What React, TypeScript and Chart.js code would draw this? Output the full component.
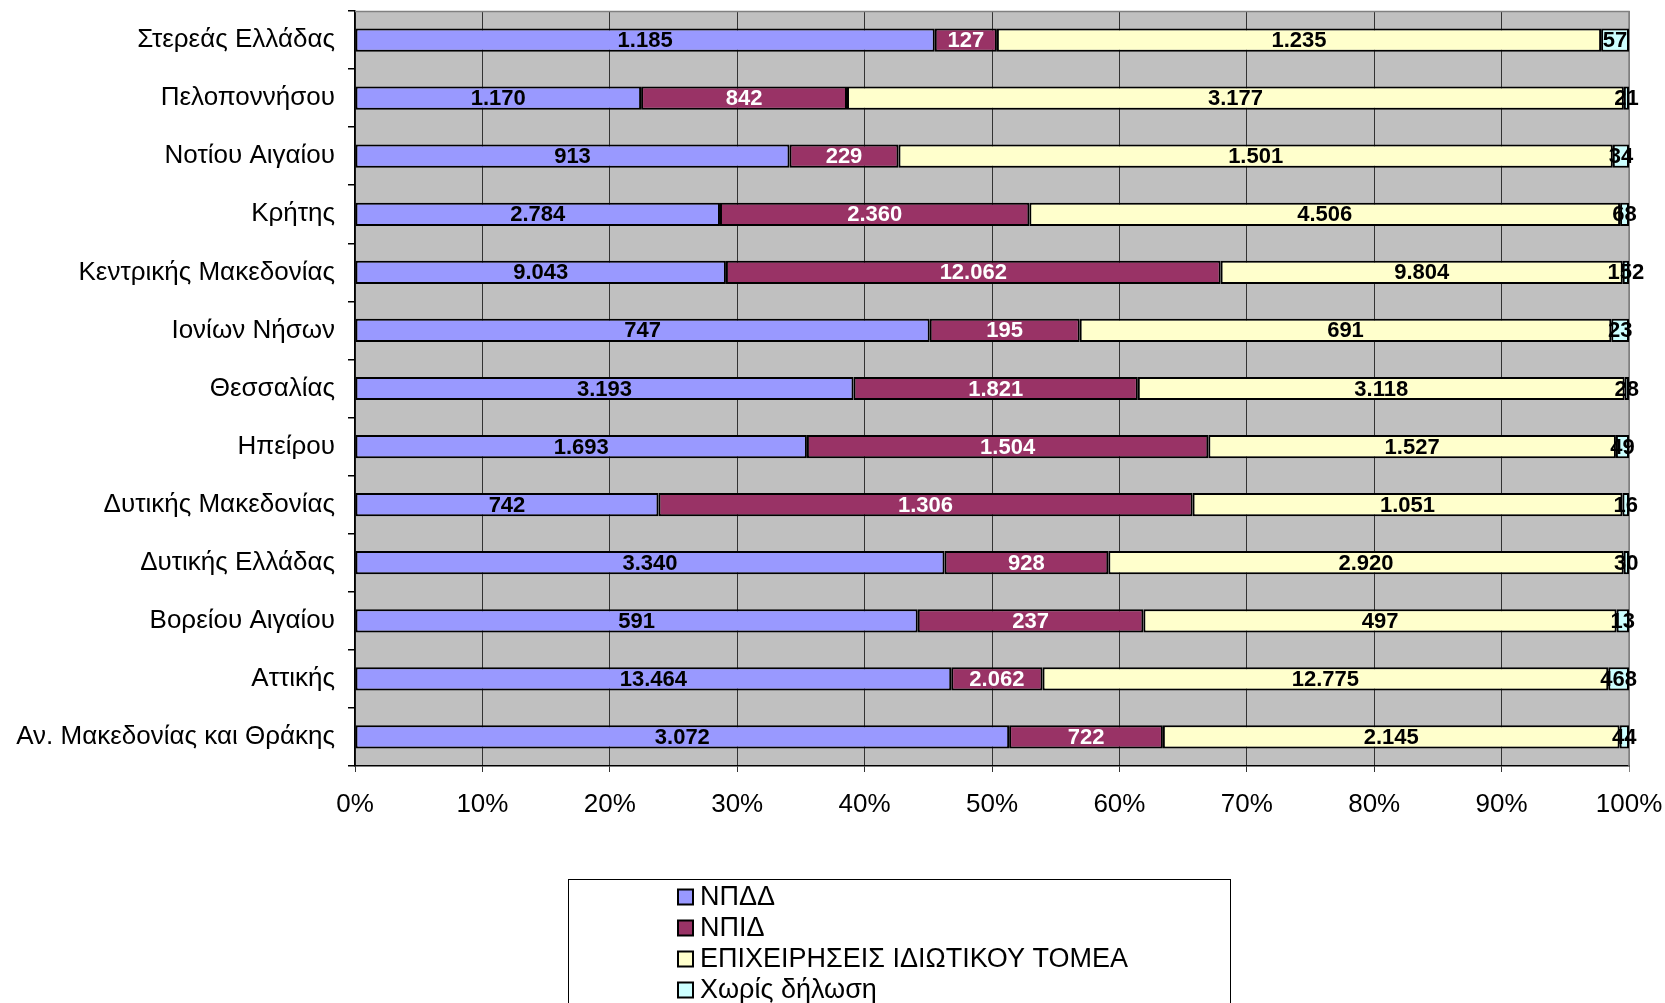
import React, { useEffect, useRef } from 'react';
import { Chart, registerables } from 'chart.js';

Chart.register(...registerables);

const categories = [
  'Στερεάς Ελλάδας',
  'Πελοποννήσου',
  'Νοτίου Αιγαίου',
  'Κρήτης',
  'Κεντρικής Μακεδονίας',
  'Ιονίων Νήσων',
  'Θεσσαλίας',
  'Ηπείρου',
  'Δυτικής Μακεδονίας',
  'Δυτικής Ελλάδας',
  'Βορείου Αιγαίου',
  'Αττικής',
  'Αν. Μακεδονίας και Θράκης',
];

const npdd = [1185, 1170, 913, 2784, 9043, 747, 3193, 1693, 742, 3340, 591, 13464, 3072];
const npid = [127, 842, 229, 2360, 12062, 195, 1821, 1504, 1306, 928, 237, 2062, 722];
const privateSector = [1235, 3177, 1501, 4506, 9804, 691, 3118, 1527, 1051, 2920, 497, 12775, 2145];
const noDeclaration = [57, 21, 34, 68, 152, 23, 28, 49, 16, 30, 13, 468, 44];

const seriesNames = ['ΝΠΔΔ', 'ΝΠΙΔ', 'ΕΠΙΧΕΙΡΗΣΕΙΣ ΙΔΙΩΤΙΚΟΥ ΤΟΜΕΑ', 'Χωρίς δήλωση'];
const seriesColors = ['#9999FF', '#993366', '#FFFFCC', '#CCFFFF'];
const labelColors = ['#000000', '#FFFFFF', '#000000', '#000000'];
const xTickValues = [0, 10, 20, 30, 40, 50, 60, 70, 80, 90, 100];

const FONT = "'Liberation Sans', Arial, sans-serif";

function fmt(v: number): string {
  return String(v).replace(/\B(?=(\d{3})+(?!\d))/g, '.');
}

export default function App() {
  const ref = useRef<HTMLCanvasElement | null>(null);

  useEffect(() => {
    if (!ref.current) return;
    const raw = [npdd, npid, privateSector, noDeclaration];
    const totals = categories.map((_, i) => raw.reduce((s, arr) => s + arr[i], 0));

    const bgPlugin = {
      id: 'plotBg',
      beforeDraw(chart: any) {
        const { ctx, chartArea } = chart;
        ctx.save();
        ctx.fillStyle = '#C0C0C0';
        ctx.fillRect(chartArea.left, chartArea.top, chartArea.right - chartArea.left, chartArea.bottom - chartArea.top);
        ctx.restore();
      },
      beforeDatasetsDraw(chart: any) {
        const { ctx, chartArea } = chart;
        ctx.save();
        ctx.strokeStyle = '#808080';
        ctx.lineWidth = 1.5;
        ctx.beginPath();
        ctx.moveTo(chartArea.left, chartArea.top + 0.5);
        ctx.lineTo(chartArea.right, chartArea.top + 0.5);
        ctx.lineTo(chartArea.right, chartArea.bottom);
        ctx.stroke();
        ctx.restore();
      },
    };

    const labelPlugin = {
      id: 'valueLabels',
      afterDatasetsDraw(chart: any) {
        const { ctx } = chart;
        ctx.save();
        ctx.font = `bold 22px ${FONT}`;
        ctx.textAlign = 'center';
        ctx.textBaseline = 'middle';
        chart.data.datasets.forEach((ds: any, di: number) => {
          const meta = chart.getDatasetMeta(di);
          meta.data.forEach((el: any, i: number) => {
            const cx = (el.x + el.base) / 2;
            ctx.fillStyle = labelColors[di];
            ctx.fillText(fmt(raw[di][i]), cx, el.y + 1);
          });
        });
        ctx.restore();
      },
    };

    const legendPlugin = {
      id: 'boxLegend',
      afterDraw(chart: any) {
        const { ctx } = chart;
        ctx.save();
        ctx.strokeStyle = '#000000';
        ctx.lineWidth = 1;
        ctx.strokeRect(568.5, 879.5, 662, 200);
        ctx.font = `27px ${FONT}`;
        ctx.textBaseline = 'middle';
        ctx.textAlign = 'left';
        seriesNames.forEach((name, i) => {
          const cy = 897 + i * 31;
          ctx.fillStyle = seriesColors[i];
          ctx.fillRect(678, cy - 7.5, 15, 15);
          ctx.strokeStyle = '#000000';
          ctx.lineWidth = 2;
          ctx.strokeRect(678, cy - 7.5, 15, 15);
          ctx.fillStyle = '#000000';
          ctx.fillText(name, 700, cy + 1);
        });
        ctx.restore();
      },
    };

    const chart = new Chart(ref.current, {
      type: 'bar',
      data: {
        labels: categories,
        datasets: raw.map((arr, di) => ({
          label: seriesNames[di],
          data: arr.map((v, i) => (v / totals[i]) * 100),
          backgroundColor: seriesColors[di],
          borderColor: '#000000',
          borderWidth: 2,
          borderSkipped: false,
          categoryPercentage: 1,
          barPercentage: 0.4,
        })),
      },
      options: {
        indexAxis: 'y',
        responsive: false,
        animation: false,
        layout: { padding: { top: 11, right: 36, left: 0, bottom: 0 } },
        plugins: {
          legend: { display: false },
          tooltip: { enabled: false },
          title: { display: false },
        },
        scales: {
          x: {
            stacked: true,
            min: 0,
            max: 100,
            afterBuildTicks(scale: any) {
              scale.ticks = xTickValues.map((v) => ({ value: v }));
            },
            afterFit(scale: any) {
              scale.height = 237;
              scale.paddingLeft = 0;
              scale.paddingRight = 0;
            },
            ticks: {
              color: '#000000',
              font: { family: FONT, size: 26 },
              padding: 17,
              maxRotation: 0,
              callback: (v: any) => `${v}%`,
            },
            grid: {
              color: (c: any) => (c.index === 10 ? '#808080' : '#333333'),
              lineWidth: 1,
              tickLength: 6,
              drawTicks: true,
            },
            border: { display: true, color: '#000000', width: 1.5 },
          },
          y: {
            stacked: true,
            afterFit(scale: any) {
              scale.width = 355;
              scale.paddingTop = 0;
              scale.paddingBottom = 0;
            },
            ticks: {
              color: '#000000',
              font: { family: FONT, size: 26 },
              padding: 13,
              autoSkip: false,
            },
            grid: {
              drawOnChartArea: false,
              drawTicks: true,
              tickLength: 7,
              color: '#000000',
              lineWidth: 1.5,
              offset: true,
            },
            border: { display: true, color: '#000000', width: 1.5 },
          },
        },
      },
      plugins: [bgPlugin, labelPlugin, legendPlugin],
    });

    return () => chart.destroy();
  }, []);

  return (
    <div style={{ position: 'absolute', left: 0, top: 0, width: 1665, height: 1003, background: '#FFFFFF' }}>
      <canvas ref={ref} width={1665} height={1003} style={{ display: 'block' }} />
    </div>
  );
}
